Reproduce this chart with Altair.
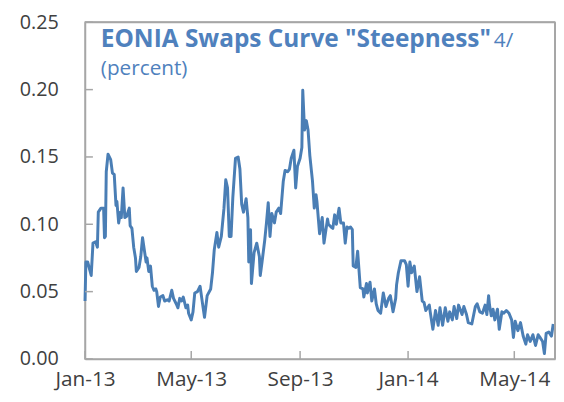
import altair as alt
import pandas as pd

dates = [
    "2013-01-01", "2013-01-02", "2013-01-04", "2013-01-08", "2013-01-10", "2013-01-13",
    "2013-01-15", "2013-01-16", "2013-01-19", "2013-01-22", "2013-01-23", "2013-01-24",
    "2013-01-25", "2013-01-27", "2013-01-30", "2013-02-01", "2013-02-03", "2013-02-05",
    "2013-02-06", "2013-02-08", "2013-02-10", "2013-02-11", "2013-02-13", "2013-02-15",
    "2013-02-17", "2013-02-20", "2013-02-21", "2013-02-23", "2013-02-25", "2013-02-27",
    "2013-02-28", "2013-03-03", "2013-03-05", "2013-03-07", "2013-03-09", "2013-03-11",
    "2013-03-12", "2013-03-14", "2013-03-16", "2013-03-18", "2013-03-20", "2013-03-22",
    "2013-03-23", "2013-03-25", "2013-03-27", "2013-03-30", "2013-04-01", "2013-04-04",
    "2013-04-06", "2013-04-09", "2013-04-11", "2013-04-14", "2013-04-16", "2013-04-18",
    "2013-04-20", "2013-04-22", "2013-04-25", "2013-04-27", "2013-04-28", "2013-05-01",
    "2013-05-03", "2013-05-05", "2013-05-08", "2013-05-11", "2013-05-14", "2013-05-16",
    "2013-05-19", "2013-05-23", "2013-05-25", "2013-05-27", "2013-05-30", "2013-06-01",
    "2013-06-04", "2013-06-07", "2013-06-09", "2013-06-11", "2013-06-13", "2013-06-15",
    "2013-06-17", "2013-06-20", "2013-06-23", "2013-06-25", "2013-06-27", "2013-06-29",
    "2013-07-02", "2013-07-04", "2013-07-05", "2013-07-07", "2013-07-08", "2013-07-11",
    "2013-07-14", "2013-07-17", "2013-07-18", "2013-07-20", "2013-07-23", "2013-07-25",
    "2013-07-27", "2013-07-29", "2013-07-31", "2013-08-03", "2013-08-05", "2013-08-08",
    "2013-08-10", "2013-08-13", "2013-08-15", "2013-08-18", "2013-08-20", "2013-08-22",
    "2013-08-25", "2013-08-27", "2013-08-29", "2013-09-01", "2013-09-03", "2013-09-04",
    "2013-09-06", "2013-09-08", "2013-09-10", "2013-09-12", "2013-09-15", "2013-09-17",
    "2013-09-19", "2013-09-20", "2013-09-23", "2013-09-26", "2013-09-28", "2013-10-02",
    "2013-10-03", "2013-10-06", "2013-10-08", "2013-10-10", "2013-10-12", "2013-10-15",
    "2013-10-17", "2013-10-20", "2013-10-22", "2013-10-24", "2013-10-26", "2013-10-28",
    "2013-10-30", "2013-10-31", "2013-11-03", "2013-11-05", "2013-11-08", "2013-11-11",
    "2013-11-12", "2013-11-15", "2013-11-16", "2013-11-19", "2013-11-21", "2013-11-24",
    "2013-11-26", "2013-11-28", "2013-12-01", "2013-12-04", "2013-12-07", "2013-12-10",
    "2013-12-12", "2013-12-15", "2013-12-18", "2013-12-19", "2013-12-21", "2013-12-24",
    "2013-12-28", "2013-12-30", "2014-01-01", "2014-01-03", "2014-01-05", "2014-01-08",
    "2014-01-11", "2014-01-14", "2014-01-17", "2014-01-19", "2014-01-21", "2014-01-25",
    "2014-01-26", "2014-01-29", "2014-02-01", "2014-02-04", "2014-02-06", "2014-02-09",
    "2014-02-12", "2014-02-15", "2014-02-17", "2014-02-20", "2014-02-22", "2014-02-25",
    "2014-02-27", "2014-03-03", "2014-03-05", "2014-03-08", "2014-03-10", "2014-03-14",
    "2014-03-18", "2014-03-20", "2014-03-23", "2014-03-26", "2014-03-29", "2014-03-31",
    "2014-04-02", "2014-04-03", "2014-04-05", "2014-04-07", "2014-04-09", "2014-04-12",
    "2014-04-14", "2014-04-17", "2014-04-19", "2014-04-22", "2014-04-25", "2014-04-28",
    "2014-04-30", "2014-05-02", "2014-05-05", "2014-05-08", "2014-05-11", "2014-05-14",
    "2014-05-16", "2014-05-19", "2014-05-22", "2014-05-25", "2014-05-28", "2014-05-30",
    "2014-06-02", "2014-06-04", "2014-06-06", "2014-06-09", "2014-06-12", "2014-06-14",
]

values = [
    0.043, 0.072, 0.072, 0.062, 0.086, 0.087,
    0.083, 0.109, 0.112, 0.112, 0.090, 0.091,
    0.139, 0.152, 0.148, 0.138, 0.137, 0.114,
    0.117, 0.101, 0.109, 0.105, 0.127, 0.105,
    0.106, 0.112, 0.099, 0.097, 0.083, 0.075,
    0.065, 0.068, 0.076, 0.090, 0.081, 0.072,
    0.075, 0.065, 0.069, 0.054, 0.051, 0.052,
    0.050, 0.039, 0.046, 0.047, 0.043, 0.044,
    0.043, 0.051, 0.045, 0.041, 0.038, 0.045,
    0.043, 0.046, 0.038, 0.040, 0.034, 0.029,
    0.035, 0.049, 0.050, 0.054, 0.040, 0.031,
    0.047, 0.052, 0.064, 0.081, 0.094, 0.083,
    0.091, 0.112, 0.133, 0.127, 0.091, 0.091,
    0.120, 0.149, 0.150, 0.141, 0.115, 0.109,
    0.119, 0.105, 0.072, 0.096, 0.056, 0.079,
    0.086, 0.076, 0.062, 0.072, 0.088, 0.101,
    0.116, 0.091, 0.108, 0.101, 0.109, 0.112,
    0.108, 0.132, 0.140, 0.139, 0.141, 0.149,
    0.155, 0.127, 0.143, 0.149, 0.157, 0.1995,
    0.170, 0.177, 0.170, 0.151, 0.132, 0.112,
    0.122, 0.117, 0.093, 0.105, 0.086, 0.104,
    0.100, 0.098, 0.097, 0.107, 0.100, 0.112,
    0.101, 0.101, 0.086, 0.098, 0.097, 0.098,
    0.096, 0.069, 0.068, 0.080, 0.053, 0.052,
    0.046, 0.056, 0.049, 0.057, 0.043, 0.052,
    0.041, 0.036, 0.034, 0.049, 0.039, 0.045,
    0.047, 0.035, 0.045, 0.055, 0.064, 0.073,
    0.073, 0.070, 0.054, 0.072, 0.064, 0.069,
    0.050, 0.061, 0.043, 0.042, 0.036, 0.040,
    0.035, 0.022, 0.036, 0.025, 0.038, 0.025,
    0.038, 0.028, 0.035, 0.029, 0.039, 0.030,
    0.040, 0.033, 0.039, 0.033, 0.027, 0.026,
    0.039, 0.041, 0.035, 0.034, 0.040, 0.033,
    0.047, 0.040, 0.032, 0.037, 0.029, 0.037,
    0.022, 0.035, 0.034, 0.036, 0.034, 0.029,
    0.016, 0.028, 0.021, 0.027, 0.017, 0.011,
    0.018, 0.013, 0.018, 0.010, 0.018, 0.016,
    0.013, 0.004, 0.019, 0.020, 0.017, 0.026,
]

y_ticks = [0.0, 0.05, 0.10, 0.15, 0.20, 0.25]
x_tick_dates = [(2013, 1), (2013, 5), (2013, 9), (2014, 1), (2014, 5)]
x_end = (2014, 6, 16)
title_main = 'EONIA Swaps Curve "Steepness"'
title_note = "4/"
subtitle = "(percent)"

W, H = 476, 341
FRAME = "#a6a6a6"
LABEL = "#404040"
BLUE_TXT = "#4f81bd"
BLUE_LINE = "#4a7eb5"
FONT = "Open Sans"

df = pd.DataFrame({"date": dates, "value": values})
xt_df = pd.DataFrame({"date": [f"{y}-{m:02d}-01" for y, m in x_tick_dates]})
yt_df = pd.DataFrame({"value": y_ticks})

x_scale = alt.Scale(
    type="utc",
    domain=[
        alt.DateTime(year=2013, month=1, date=1, utc=True),
        alt.DateTime(year=x_end[0], month=x_end[1], date=x_end[2], utc=True),
    ],
)
y_scale = alt.Scale(domain=[0, 0.25], nice=False)

x_axis = alt.Axis(
    values=[alt.DateTime(year=y, month=m, date=1, utc=True) for y, m in x_tick_dates],
    labelExpr="utcFormat(datum.value, '%b-%y')",
    ticks=False,
    grid=False,
    title=None,
    labelFontSize=21,
    labelPadding=10,
    labelColor=LABEL,
    labelFont=FONT,
    labelFlush=False,
    domainColor=FRAME,
    domainWidth=1.5,
)
y_axis = alt.Axis(
    values=y_ticks,
    format=".2f",
    ticks=False,
    grid=False,
    title=None,
    labelFontSize=20,
    labelPadding=27,
    labelColor=LABEL,
    labelFont=FONT,
    domainColor=FRAME,
    domainWidth=1.5,
)

line = alt.Chart(df).mark_line(color=BLUE_LINE, strokeWidth=3, strokeJoin="round").encode(
    x=alt.X("date:T", scale=x_scale, axis=x_axis),
    y=alt.Y("value:Q", scale=y_scale, axis=y_axis),
)

# frame: top and right borders at the scale extremes
top_border = alt.Chart(pd.DataFrame({"value": [y_ticks[-1]]})).mark_rule(
    color=FRAME, strokeWidth=2
).encode(
    y=alt.Y("value:Q", scale=y_scale, axis=y_axis),
    x=alt.value(0),
    x2=alt.value(W),
)
right_border = alt.Chart(
    pd.DataFrame({"date": [f"{x_end[0]}-{x_end[1]:02d}-{x_end[2]:02d}"]})
).mark_rule(color=FRAME, strokeWidth=2).encode(
    x=alt.X("date:T", scale=x_scale, axis=x_axis),
    y=alt.value(0),
    y2=alt.value(H),
)

# inward tick marks
yticks = alt.Chart(yt_df).mark_rule(color=FRAME, strokeWidth=1.5).encode(
    y=alt.Y("value:Q", scale=y_scale, axis=y_axis),
    x=alt.value(0),
    x2=alt.value(8),
)
xticks = alt.Chart(xt_df).mark_rule(color=FRAME, strokeWidth=1.5).encode(
    x=alt.X("date:T", scale=x_scale, axis=x_axis),
    y=alt.value(H - 8),
    y2=alt.value(H),
)

t1 = alt.Chart(pd.DataFrame({"t": [title_main]})).mark_text(
    align="left", baseline="alphabetic", font=FONT, fontWeight="bold", fontSize=24.7, color=BLUE_TXT
).encode(x=alt.value(16), y=alt.value(25), text="t:N")
t2 = alt.Chart(pd.DataFrame({"t": [title_note]})).mark_text(
    align="left", baseline="alphabetic", font=FONT, fontSize=21, color=BLUE_TXT
).encode(x=alt.value(414), y=alt.value(25), text="t:N")
t3 = alt.Chart(pd.DataFrame({"t": [subtitle]})).mark_text(
    align="left", baseline="alphabetic", font=FONT, fontSize=21, color=BLUE_TXT
).encode(x=alt.value(16), y=alt.value(53), text="t:N")

chart = alt.layer(line, top_border, right_border, yticks, xticks, t1, t2, t3).properties(
    width=W,
    height=H,
    padding={"left": 11, "top": 2, "right": 0, "bottom": 0},
    background="white",
).configure_view(stroke=FRAME, strokeWidth=1.5)

chart.save("out.html", embed_options={"renderer": "svg", "actions": False})
